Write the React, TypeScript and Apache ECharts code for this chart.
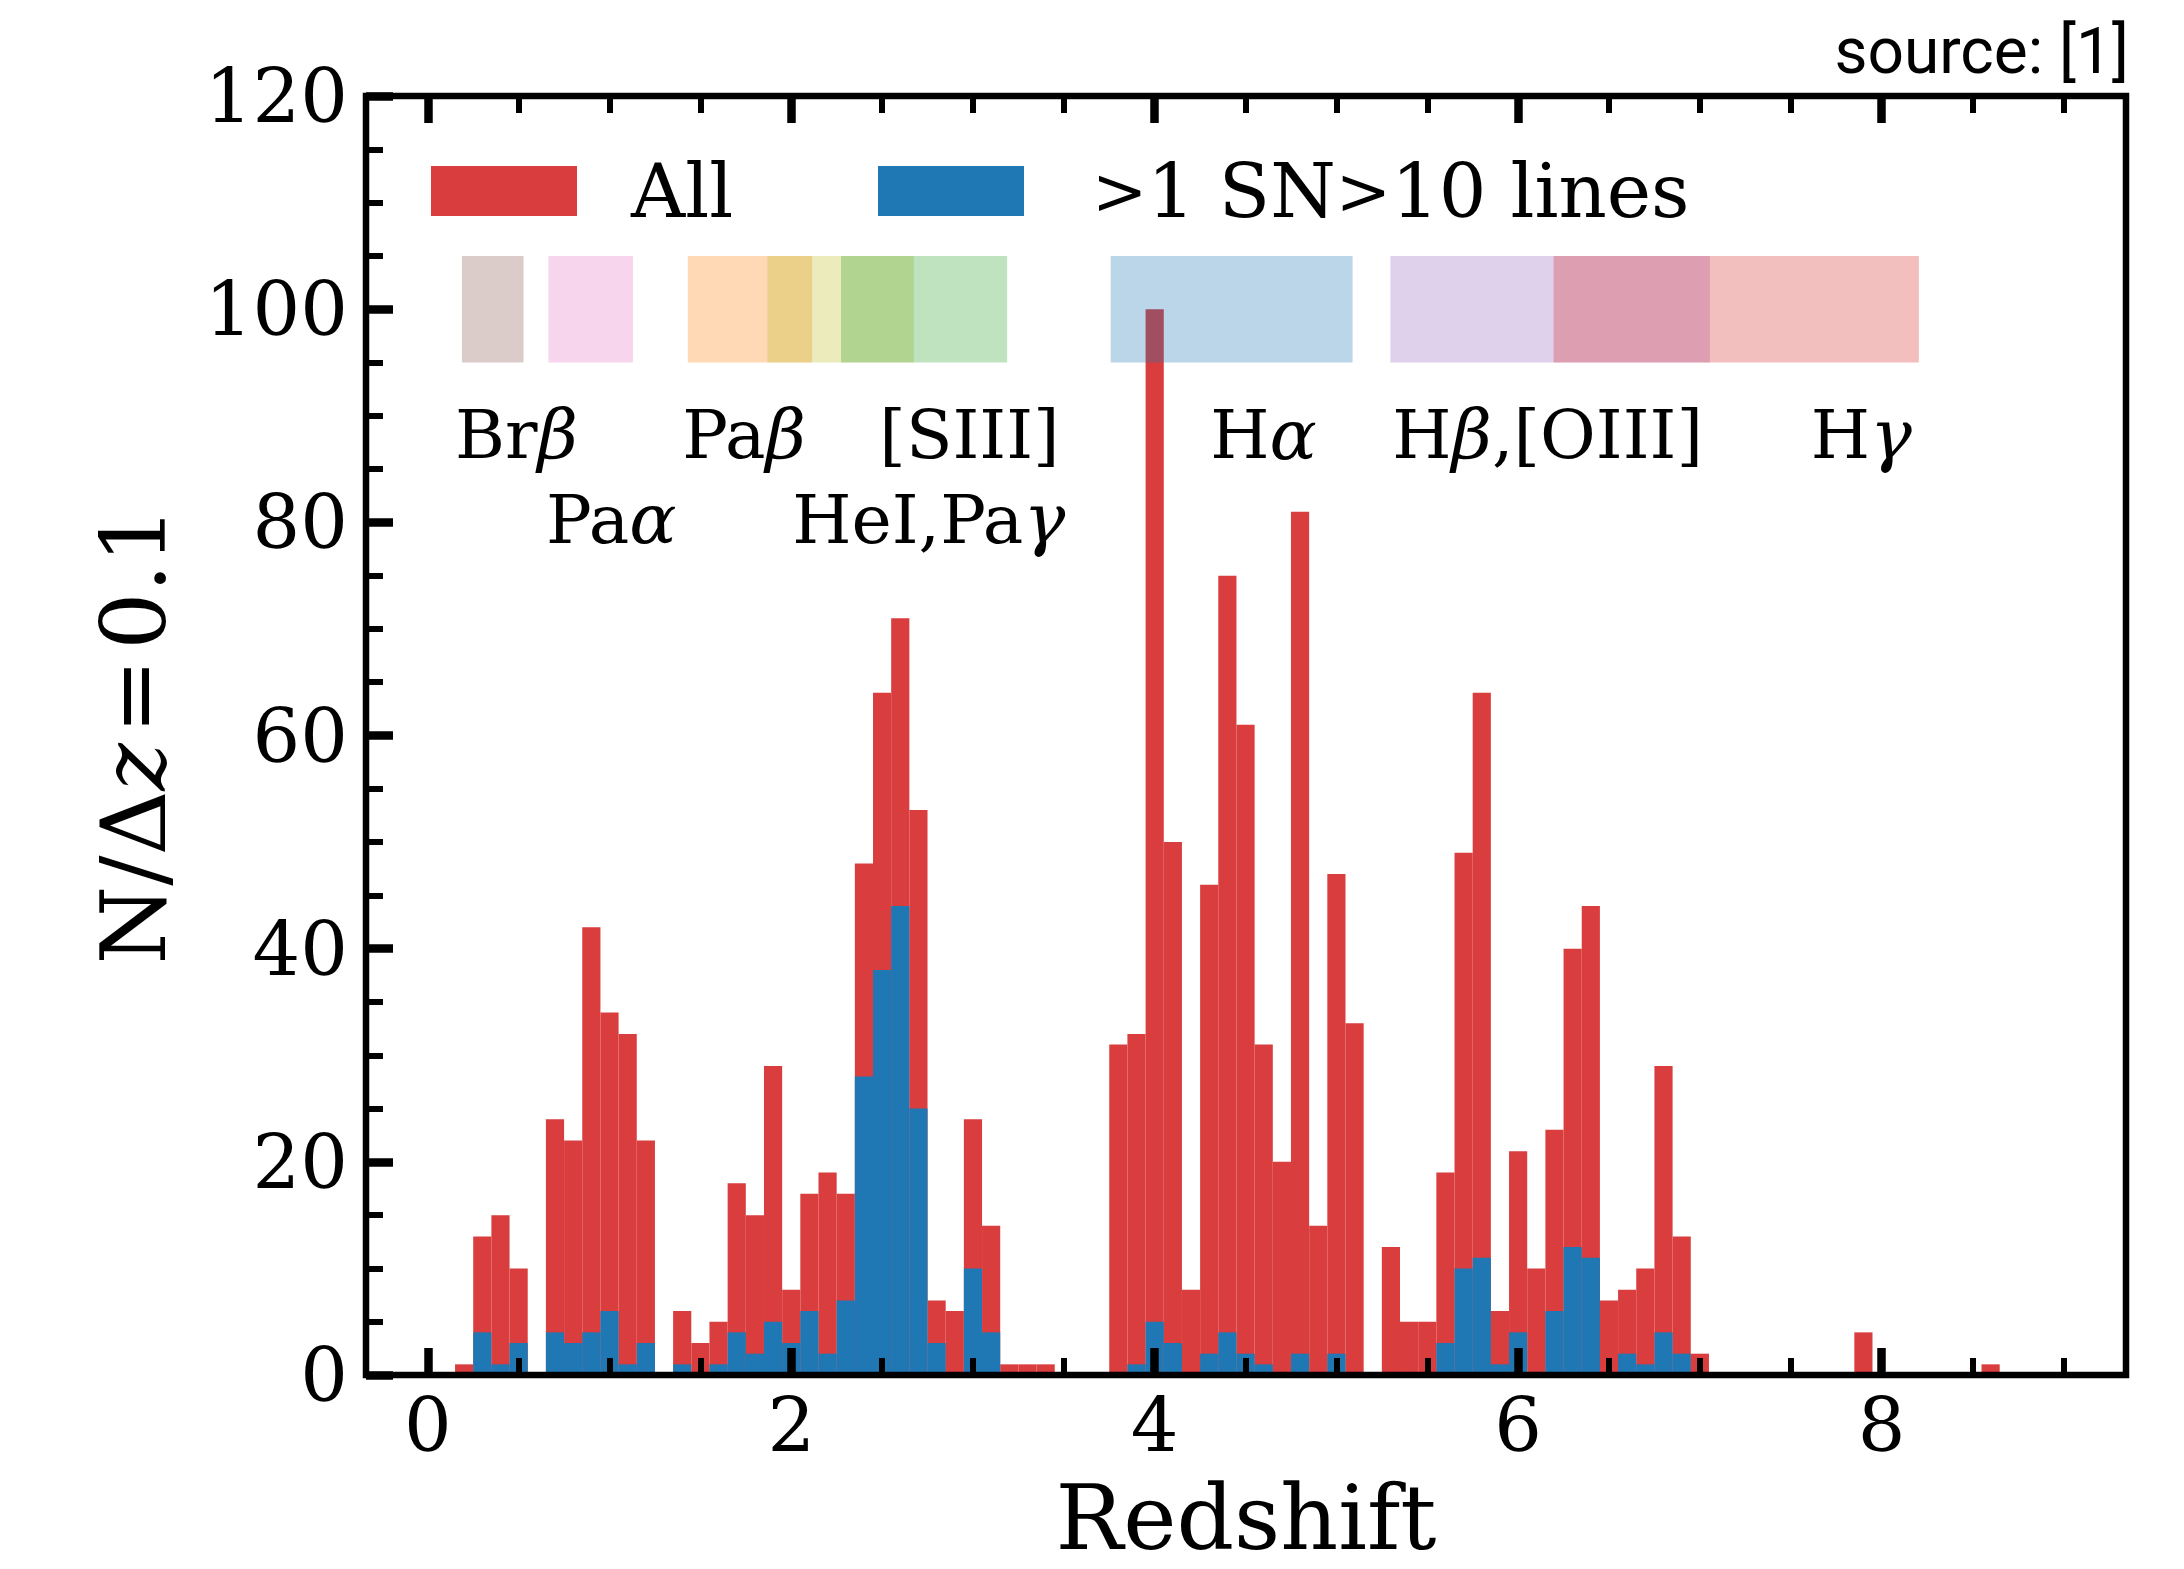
import React, { useEffect, useRef } from "react";
import * as echarts from "echarts";

// Histogram bins (centre redshift of each 0.1-wide bin) and counts
const zAll = [0.2, 0.3, 0.4, 0.5, 0.7, 0.8, 0.9, 1.0, 1.1, 1.2, 1.4, 1.5, 1.6, 1.7, 1.8, 1.9, 2.0, 2.1, 2.2, 2.3, 2.4, 2.5, 2.6, 2.7, 2.8, 2.9, 3.0, 3.1, 3.2, 3.3, 3.4, 3.8, 3.9, 4.0, 4.1, 4.2, 4.3, 4.4, 4.5, 4.6, 4.7, 4.8, 4.9, 5.0, 5.1, 5.3, 5.4, 5.5, 5.6, 5.7, 5.8, 5.9, 6.0, 6.1, 6.2, 6.3, 6.4, 6.5, 6.6, 6.7, 6.8, 6.9, 7.0, 7.9, 8.6];
const nAll = [1, 13, 15, 10, 24, 22, 42, 34, 32, 22, 6, 3, 5, 18, 15, 29, 8, 17, 19, 17, 48, 64, 71, 53, 7, 6, 24, 14, 1, 1, 1, 31, 32, 100, 50, 8, 46, 75, 61, 31, 20, 81, 14, 47, 33, 12, 5, 5, 19, 49, 64, 6, 21, 10, 23, 40, 44, 7, 8, 10, 29, 13, 2, 4, 1];
const zSN = [0.3, 0.4, 0.5, 0.7, 0.8, 0.9, 1.0, 1.1, 1.2, 1.4, 1.6, 1.7, 1.8, 1.9, 2.0, 2.1, 2.2, 2.3, 2.4, 2.5, 2.6, 2.7, 2.8, 3.0, 3.1, 3.9, 4.0, 4.1, 4.3, 4.4, 4.5, 4.6, 4.8, 5.0, 5.6, 5.7, 5.8, 5.9, 6.0, 6.2, 6.3, 6.4, 6.6, 6.7, 6.8, 6.9];
const nSN = [4, 1, 3, 4, 3, 4, 6, 1, 3, 1, 1, 4, 2, 5, 3, 6, 2, 7, 28, 38, 44, 25, 3, 10, 4, 1, 5, 3, 2, 4, 2, 1, 2, 2, 3, 10, 11, 1, 4, 6, 12, 11, 2, 1, 4, 2];
const BIN_WIDTH = 0.1;

// Emission-line redshift windows
const bandStart = [0.188, 0.664, 1.431, 1.869, 2.274, 3.758, 5.297, 6.195];
const bandEnd = [0.527, 1.129, 2.115, 2.674, 3.188, 5.089, 7.055, 8.205];
const bandColors = ["#8c564b", "#e377c2", "#ff7f0e", "#bcbd22", "#2ca02c", "#1f77b4", "#9467bd", "#d62728"];
const BAND_LOW = 95;
const BAND_HIGH = 105;

// Line labels
const labelRich = [
  "{r|Br}{g|β}",
  "{r|Pa}{g|α}",
  "{r|Pa}{g|β}",
  "{r|HeI,Pa}{g|γ}",
  "{r|[SIII]}",
  "{r|H}{g|α}",
  "{r|H}{g|β}{r|,[OIII]}",
  "{r|H}{g|γ}",
];
const labelX = [0.15, 0.651, 1.4, 2.005, 2.485, 4.306, 5.307, 7.61];
const labelY = [88.2, 80.3, 88.2, 80.3, 88.2, 88.2, 88.2, 88.2];

// Axes
const X_MIN = -0.34;
const X_MAX = 9.345;
const xMajorTicks = [0, 2, 4, 6, 8];
const xMinorTicks = [0, 0.5, 1, 1.5, 2, 2.5, 3, 3.5, 4, 4.5, 5, 5.5, 6, 6.5, 7, 7.5, 8, 8.5, 9];
const Y_MIN = 0;
const Y_MAX = 120;
const Y_INTERVAL = 20;

const RED = "#da3d3e";
const BLUE = "#1f77b4";
const SERIF = "'DejaVu Serif', serif";
const HAIR = "\u200A";

function histSeries(name: string, zs: number[], ns: number[], color: string, z: number) {
  return {
    type: "custom",
    name,
    xAxisIndex: 0,
    yAxisIndex: 0,
    z,
    silent: true,
    data: zs.map((x, i) => [x, ns[i]]),
    renderItem: (params: any, api: any) => {
      const x = api.value(0);
      const y = api.value(1);
      const p0 = api.coord([x - BIN_WIDTH / 2, y]);
      const p1 = api.coord([x + BIN_WIDTH / 2, 0]);
      return {
        type: "rect",
        shape: { x: p0[0], y: p0[1], width: p1[0] - p0[0], height: p1[1] - p0[1] },
        style: { fill: color },
      };
    },
  };
}

function xAxisDef(position: string, ticks: number[], len: number, width: number, labels: boolean) {
  const ax: any = {
    type: "value",
    min: X_MIN,
    max: X_MAX,
    position,
    z: 20,
    axisLine: { show: false, onZero: false },
    splitLine: { show: false },
    axisTick: { show: true, inside: true, length: len, lineStyle: { color: "#000", width }, customValues: ticks },
    axisLabel: labels
      ? { show: true, customValues: ticks, fontFamily: SERIF, fontSize: 75, color: "#000", margin: 12 }
      : { show: false },
  };
  return ax;
}

export default function App() {
  const ref = useRef<HTMLDivElement>(null);
  useEffect(() => {
    if (!ref.current) return;
    const chart = echarts.init(ref.current, undefined, { renderer: "svg" });
    const mainX = xAxisDef("bottom", xMajorTicks, 27, 8.5, true);
    mainX.name = "Redshift";
    mainX.nameLocation = "middle";
    mainX.nameGap = 103;
    mainX.nameTextStyle = { fontFamily: SERIF, fontSize: 90, lineHeight: 78, color: "#000" };
    const option: any = {
      animation: false,
      backgroundColor: "#fff",
      grid: {
        left: 366,
        top: 96,
        right: 2184 - 2126,
        bottom: 1569 - 1375,
        show: true,
        borderColor: "#000",
        borderWidth: 6.5,
        backgroundColor: "transparent",
        z: 20,
      },
      xAxis: [
        mainX,
        xAxisDef("bottom", xMinorTicks, 17, 6, false),
        xAxisDef("top", xMajorTicks, 27, 8.5, false),
        xAxisDef("top", xMinorTicks, 17, 6, false),
      ],
      yAxis: {
        type: "value",
        min: Y_MIN,
        max: Y_MAX,
        interval: Y_INTERVAL,
        position: "left",
        z: 20,
        axisLine: { show: false, onZero: false },
        splitLine: { show: false },
        axisTick: { show: true, inside: true, length: 27, lineStyle: { color: "#000", width: 8.5 } },
        minorTick: { show: true, splitNumber: 4, length: 17, lineStyle: { color: "#000", width: 6 } },
        axisLabel: { fontFamily: SERIF, fontSize: 75, color: "#000", margin: 18 },
        name: `{r|N/Δ}{i|z}{r|${HAIR}=${HAIR}0.1}`,
        nameLocation: "middle",
        nameGap: 188,
        nameRotate: 90,
        nameTextStyle: {
          fontFamily: SERIF,
          fontSize: 90,
          color: "#000",
          rich: {
            r: { fontFamily: SERIF, fontSize: 90, color: "#000" },
            i: { fontFamily: SERIF, fontSize: 90, fontStyle: "italic", color: "#000" },
          },
        },
      },
      series: [
        histSeries("All", zAll, nAll, RED, 2),
        histSeries(">1 SN>10 lines", zSN, nSN, BLUE, 3),
        {
          type: "custom",
          name: "bands",
          z: 4,
          silent: true,
          xAxisIndex: 0,
          yAxisIndex: 0,
          data: bandStart.map((s, i) => [s, bandEnd[i]]),
          renderItem: (params: any, api: any) => {
            const i = params.dataIndex;
            const p0 = api.coord([bandStart[i], BAND_HIGH]);
            const p1 = api.coord([bandEnd[i], BAND_LOW]);
            return {
              type: "rect",
              shape: { x: p0[0], y: p0[1], width: p1[0] - p0[0], height: p1[1] - p0[1] },
              style: { fill: bandColors[i], opacity: 0.3 },
            };
          },
        },
        {
          type: "custom",
          name: "labels",
          z: 5,
          silent: true,
          xAxisIndex: 0,
          yAxisIndex: 0,
          data: labelX.map((x, i) => [x, labelY[i]]),
          renderItem: (params: any, api: any) => {
            const i = params.dataIndex;
            const p = api.coord([labelX[i], labelY[i]]);
            return {
              type: "text",
              x: p[0],
              y: p[1],
              style: {
                text: labelRich[i],
                fill: "#000",
                fontFamily: SERIF,
                fontSize: 68,
                align: "left",
                verticalAlign: "middle",
                rich: {
                  r: { fontFamily: SERIF, fontSize: 68, fill: "#000" },
                  g: { fontFamily: SERIF, fontSize: 70, fontStyle: "italic", fill: "#000" },
                },
              },
            };
          },
        },
      ],
      graphic: [
        { type: "rect", left: 431, top: 166, shape: { width: 146, height: 50 }, style: { fill: RED }, z: 30 },
        {
          type: "text",
          x: 631,
          y: 191,
          z: 30,
          style: { text: "All", fill: "#000", font: `75px ${SERIF}`, align: "left", verticalAlign: "middle" },
        },
        { type: "rect", left: 878, top: 166, shape: { width: 146, height: 50 }, style: { fill: BLUE }, z: 30 },
        {
          type: "text",
          x: 1092,
          y: 191,
          z: 30,
          style: {
            text: "{g|>}{t|1 SN}{g|>}{t|10 lines}",
            fill: "#000",
            font: `75px ${SERIF}`,
            align: "left",
            verticalAlign: "middle",
            rich: {
              g: { fontFamily: SERIF, fontSize: 66, fill: "#000" },
              t: { fontFamily: SERIF, fontSize: 75, fill: "#000" },
            },
          },
        },
        {
          type: "text",
          x: 2129,
          y: 51,
          z: 30,
          style: { text: "source: [1]", fill: "#000", font: "64px Roboto", align: "right", verticalAlign: "middle" },
        },
      ],
    };
    chart.setOption(option);
    return () => chart.dispose();
  }, []);
  return (
    <div
      ref={ref}
      style={{ position: "fixed", left: 0, top: 0, width: "2184px", height: "1569px", background: "#fff" }}
    />
  );
}
